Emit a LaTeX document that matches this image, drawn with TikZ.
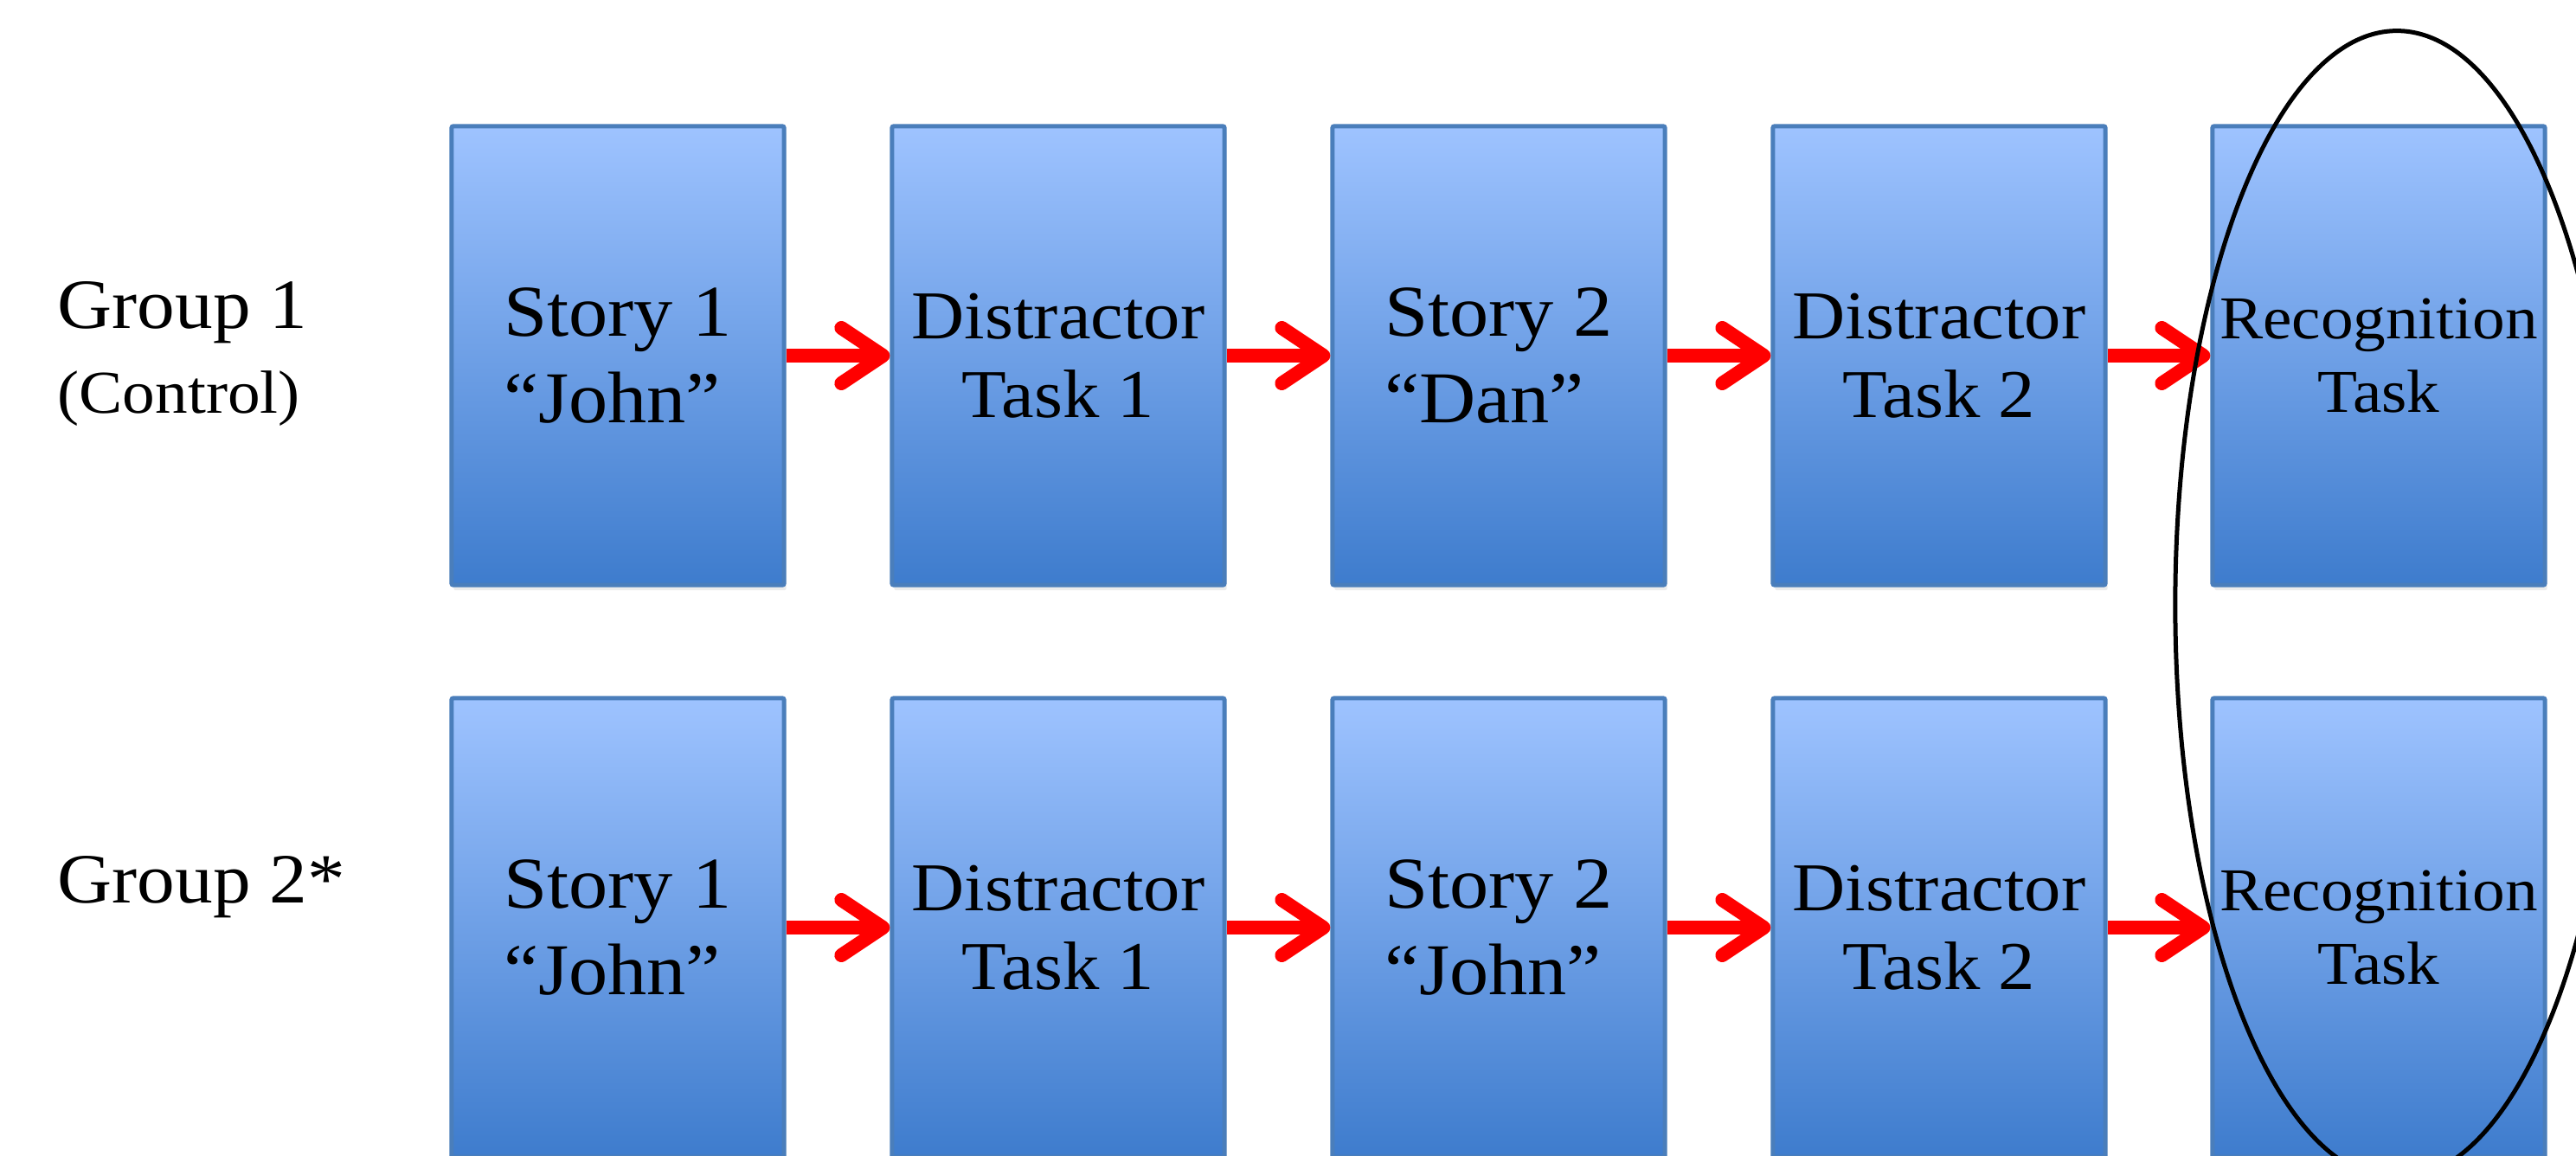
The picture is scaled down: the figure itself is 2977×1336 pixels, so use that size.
\documentclass[tikz,border=0pt]{standalone}
\usepackage{fontspec}
\setmainfont{Liberation Serif}[FakeStretch=1.07]
\usetikzlibrary{arrows.meta,shadows}
\definecolor{boxtop}{RGB}{158,195,255}
\definecolor{boxbot}{RGB}{62,124,205}
\definecolor{boxline}{RGB}{74,126,187}
\definecolor{arrred}{RGB}{255,0,0}
\begin{document}
\begin{tikzpicture}[x=0.01cm,y=-0.01cm,
  stage/.style={draw=boxline, line width=0.05cm, top color=boxtop, bottom color=boxbot,
    minimum width=3.84cm, minimum height=5.30cm, inner sep=0pt, rounded corners=0.02cm,
    drop shadow={shadow xshift=0.025cm, shadow yshift=-0.06cm, opacity=0.15}},
  storytxt/.style={align=left, font=\fontsize{24}{28.6}\selectfont},
  distxt/.style={align=center, font=\fontsize{22.5}{25.9}\selectfont},
  rectxt/.style={align=center, font=\fontsize{20}{24.2}\selectfont},
  grouplbl/.style={anchor=west, inner sep=0pt},
  flow/.style={draw=arrred, line width=0.16cm,
    -{Straight Barb[length=0.48cm, width=0.64cm, round]}},
  ring/.style={draw=black, line width=0.05cm}
]
\useasboundingbox (0,0) rectangle (2977,1336);
\fill[white] (0,0) rectangle (2977,1336);
\clip (0,0) rectangle (2977,1336);

% Group labels
\node[grouplbl, font=\fontsize{23.2}{28}\selectfont] (g1) at (66,361) {Group 1};
\node[grouplbl, font=\fontsize{20}{23}\selectfont] (g1c) at (66,461) {(Control)};
\node[grouplbl, font=\fontsize{23.2}{28}\selectfont] (g2) at (66,1025) {Group 2*};

% Row 1
\node[stage, storytxt] (a1) at (714,411) {Story 1\\“John”};
\node[stage, distxt]   (a2) at (1223,411) {Distractor\\Task 1};
\node[stage, storytxt] (a3) at (1732,411) {Story 2\\“Dan”};
\node[stage, distxt]   (a4) at (2241,411) {Distractor\\Task 2};
\node[stage, rectxt]   (a5) at (2749,411) {Recognition\\Task};

% Row 2
\node[stage, storytxt] (b1) at (714,1072) {Story 1\\“John”};
\node[stage, distxt]   (b2) at (1223,1072) {Distractor\\Task 1};
\node[stage, storytxt] (b3) at (1732,1072) {Story 2\\“John”};
\node[stage, distxt]   (b4) at (2241,1072) {Distractor\\Task 2};
\node[stage, rectxt]   (b5) at (2749,1072) {Recognition\\Task};

% Arrows
\foreach \p/\q in {a1/a2,a2/a3,a3/a4,a4/a5,b1/b2,b2/b3,b3/b4,b4/b5}{
  \draw[flow] (\p.east) -- (\q.west);
}

% Ellipse around recognition tasks
\draw[ring] (2770,699) ellipse [x radius=2.56cm, y radius=6.63cm];
\end{tikzpicture}
\end{document}
